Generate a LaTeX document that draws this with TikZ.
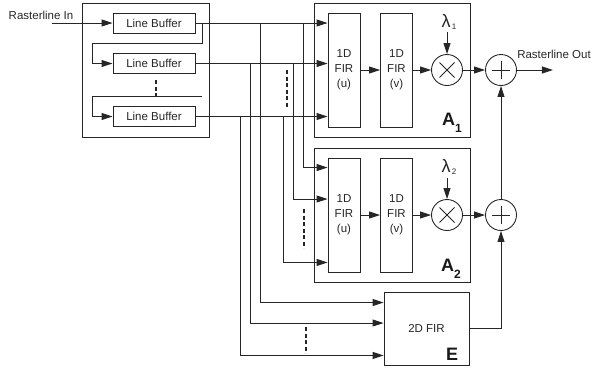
\documentclass[tikz,border=0pt]{standalone}
\usepackage{fontspec}
\setmainfont{Liberation Sans}
\usetikzlibrary{arrows.meta,positioning}

\tikzset{
  wire/.style={draw=black!85, line width=0.9pt},
  arr/.style={wire, -{Triangle[length=11pt,width=7pt]}},
  blk/.style={draw=black!85, line width=0.9pt, rectangle, inner sep=0pt},
  buf/.style={blk, minimum width=82pt, minimum height=20pt},
  fir/.style={blk, minimum width=32pt, minimum height=114pt, align=center},
  op/.style={draw=black!85, line width=0.9pt, circle, minimum size=31pt, inner sep=0pt},
  lbl/.style={text=black!85, font=\fontsize{11.5}{15}\selectfont},
  big/.style={text=black!90, font=\fontsize{18}{18}\selectfont\bfseries, inner sep=0pt, anchor=base west},
  gap/.style={draw=black!85, line width=1.2pt, dash pattern=on 4pt off 2.5pt},
}

\begin{document}
\begin{tikzpicture}[x=1pt,y=-1pt]
  \useasboundingbox (0,0) rectangle (593,373);

  % line buffers
  \node[blk, minimum width=127pt, minimum height=134pt] (bufs) at (145.5,70) {};
  \node[buf,lbl] (lb1) at (154,23) {Line Buffer};
  \node[buf,lbl] (lb2) at (154,63.5) {Line Buffer};
  \node[buf,lbl] (lb3) at (154,116.5) {Line Buffer};

  \node[lbl, anchor=base] (rin) at (41,19) {Rasterline In};
  \coordinate (src) at (52,23);
  \draw[arr] (src) -- (lb1.west);
  \draw[arr] (lb1.east) -- ++(7,0) |- (92,43) |- (lb2.west);
  \draw[arr] (202,96) -- (92,96) |- (lb3.west);
  \draw[gap] (156,80) -- (156,97);

  % separable stage A1
  \node[blk, minimum width=156pt, minimum height=134pt] (a1) at (392,70) {};
  \node[fir,lbl] (fu1) at (344,70) {1D\\FIR\\(u)};
  \node[fir,lbl] (fv1) at (396.5,70) {1D\\FIR\\(v)};
  \node[op] (mul1) at (447,70) {};
  \node[op] (add1) at (501,70) {};
  \node[text=black!85, inner sep=0pt] (lam1) at (449,22)
    {\fontsize{18}{18}\selectfont λ\raisebox{-2pt}{\fontsize{8}{8}\selectfont\,1}};
  \node[big] (a1lab) at (442,125) {A\raisebox{-7pt}{\fontsize{12}{12}\selectfont 1}};

  % separable stage A2
  \node[blk, minimum width=156pt, minimum height=134pt] (a2) at (392,215) {};
  \node[fir,lbl] (fu2) at (344,215) {1D\\FIR\\(u)};
  \node[fir,lbl] (fv2) at (396.5,215) {1D\\FIR\\(v)};
  \node[op] (mul2) at (447,215) {};
  \node[op] (add2) at (501,215) {};
  \node[text=black!85, inner sep=0pt] (lam2) at (449,167)
    {\fontsize{18}{18}\selectfont λ\raisebox{-2pt}{\fontsize{8}{8}\selectfont\,2}};
  \node[big] (a2lab) at (441,271) {A\raisebox{-7pt}{\fontsize{12}{12}\selectfont 2}};

  % error filter
  \node[blk, lbl, minimum width=85pt, minimum height=73pt] (fir2d) at (426.5,328.5) {2D FIR};
  \node[big] (elab) at (446,360) {E};

  % operator glyphs
  \foreach \m in {mul1,mul2} {
    \draw[wire] ([shift={(-7.5,-7.5)}]\m.center) -- ([shift={(7.5,7.5)}]\m.center);
    \draw[wire] ([shift={(-7.5,7.5)}]\m.center) -- ([shift={(7.5,-7.5)}]\m.center);
  }
  \foreach \a in {add1,add2} {
    \draw[wire] ([xshift=-9pt]\a.center) -- ([xshift=9pt]\a.center);
    \draw[wire] ([yshift=-9pt]\a.center) -- ([yshift=9pt]\a.center);
  }

  % inputs to A1
  \draw[arr] (lb1.east) -- (lb1.east -| fu1.west);
  \draw[arr] (lb2.east) -- (lb2.east -| fu1.west);
  \draw[arr] (lb3.east) -- (lb3.east -| fu1.west);
  \draw[gap] (287,70) -- (287,108);

  % taps to A2
  \draw[arr] (303,23) |- ([yshift=-10pt]fu2.north west);
  \draw[arr] (293,63.5) |- ([yshift=16pt]fu2.west);
  \draw[arr] (283,116.5) |- ([yshift=10pt]fu2.south west);
  \draw[gap] (304,209) -- (304,248);

  % taps to E
  \draw[arr] (260,23) |- ([yshift=-11pt]fir2d.north west);
  \draw[arr] (250,63.5) |- ([yshift=5.5pt]fir2d.west);
  \draw[arr] (240,116.5) |- ([yshift=10pt]fir2d.south west);
  \draw[gap] (306,327) -- (306,353);

  % chains
  \draw[arr] (fu1) -- (fv1);
  \draw[arr] (fv1) -- (mul1);
  \draw[arr] (mul1) -- (add1);
  \draw[arr] (mul1.north) ++(0,-22) -- (mul1.north);
  \draw[arr] (fu2) -- (fv2);
  \draw[arr] (fv2) -- (mul2);
  \draw[arr] (mul2) -- (add2);
  \draw[arr] (mul2.north) ++(0,-21) -- (mul2.north);

  % summation and output
  \draw[arr] (fir2d.east) -| (add2.south);
  \draw[arr] (add2.north) -- (add1.south);
  \draw[arr] (add1.east) -- ++(36,0) coordinate (out);
  \node[lbl, anchor=base] (rout) at (554,58) {Rasterline Out};
\end{tikzpicture}
\end{document}
